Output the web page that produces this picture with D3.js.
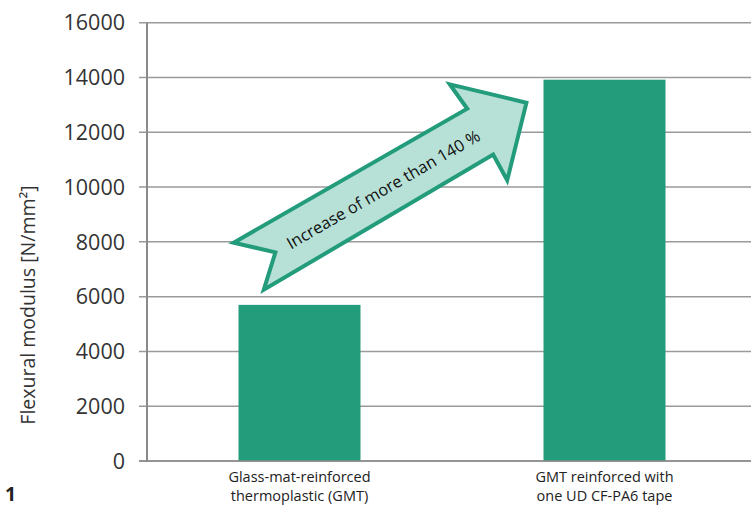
<!DOCTYPE html>
<html><head><meta charset="utf-8">
<script src="https://cdn.jsdelivr.net/npm/d3@7"></script>
<style>body{margin:0;background:#fff}svg{display:block}text{font-family:"Open Sans",sans-serif}</style>
</head><body>
<svg id="c" width="751" height="506"></svg>
<script>
const categories = [["Glass-mat-reinforced","thermoplastic (GMT)"],["GMT reinforced with","one UD CF-PA6 tape"]];
const values = [5700, 13920];
const yTicks = [0,2000,4000,6000,8000,10000,12000,14000,16000];
const yTitle = "Flexural modulus [N/mm²]";
const arrowLabel = "Increase of more than 140 %";
// arrow annotation: [fraction between bar centres, value]
const arrowPts = [[-0.216,7970],[0.550,12860],[0.493,13748],[0.744,13079],[0.681,10249],[0.635,11188],[-0.117,6252],[-0.079,7616]];
const arrowTextPos = [0.275, 9909];
const figNum = "1";

const svg = d3.select("#c");
const green = "#239c7c";
const x = d3.scaleBand().domain(d3.range(values.length)).range([147,757]).paddingInner(0.6).paddingOuter(0.3);
const y = d3.scaleLinear().domain([0,16000]).range([461,22.7]);
const cx = i => x(i) + x.bandwidth()/2;
const xf = d3.scaleLinear().domain([0,1]).range([cx(0), cx(1)]);

// gridlines
svg.append("g").selectAll("line").data(yTicks).join("line")
  .attr("x1",139).attr("x2",751).attr("y1",d=>y(d)).attr("y2",d=>y(d))
  .attr("stroke","#9a9a9a").attr("stroke-width",1.5);
// axis labels
svg.append("g").selectAll("text").data(yTicks).join("text")
  .attr("x",125).attr("y",d=>y(d)).attr("dy","0.36em").attr("text-anchor","end")
  .attr("font-size",21.5).attr("fill","#333").text(d=>d);
// bars
svg.append("g").selectAll("rect").data(values).join("rect")
  .attr("x",(d,i)=>x(i)).attr("width",x.bandwidth()).attr("y",d=>y(d)).attr("height",d=>y(0)-y(d))
  .attr("fill",green);
// y axis line
svg.append("line").attr("x1",147).attr("x2",147).attr("y1",y(16000)).attr("y2",y(0)+1)
  .attr("stroke","#8a8a8a").attr("stroke-width",2);
// baseline
svg.append("line").attr("x1",139).attr("x2",751).attr("y1",y(0)).attr("y2",y(0))
  .attr("stroke","#8a8a8a").attr("stroke-width",1.5);
// category labels
categories.forEach((lines,i)=>{
  const t = svg.append("text").attr("text-anchor","middle").attr("font-size",14.5).attr("fill","#222");
  lines.forEach((l,j)=>t.append("tspan").attr("x",cx(i)).attr("y",482+j*18.5).text(l));
});
// y title
svg.append("text").attr("transform",`translate(35,305) rotate(-90)`).attr("text-anchor","middle")
  .attr("font-size",19.5).attr("fill","#333").text(yTitle);
// arrow
svg.append("polygon").attr("points",arrowPts.map(p=>[xf(p[0]),y(p[1])].join(",")).join(" "))
  .attr("fill","#b7e1d7").attr("stroke",green).attr("stroke-width",4).attr("stroke-linejoin","miter");
svg.append("text").attr("transform",`translate(${xf(arrowTextPos[0])},${y(arrowTextPos[1])}) rotate(-30)`)
  .attr("text-anchor","middle").attr("dy","0.35em").attr("font-size",16.5).attr("fill","#111").text(arrowLabel);
// figure number
svg.append("text").attr("x",5).attr("y",501).attr("font-size",19.5).attr("font-weight","bold").attr("fill","#222").text(figNum);
</script>
</body></html>
